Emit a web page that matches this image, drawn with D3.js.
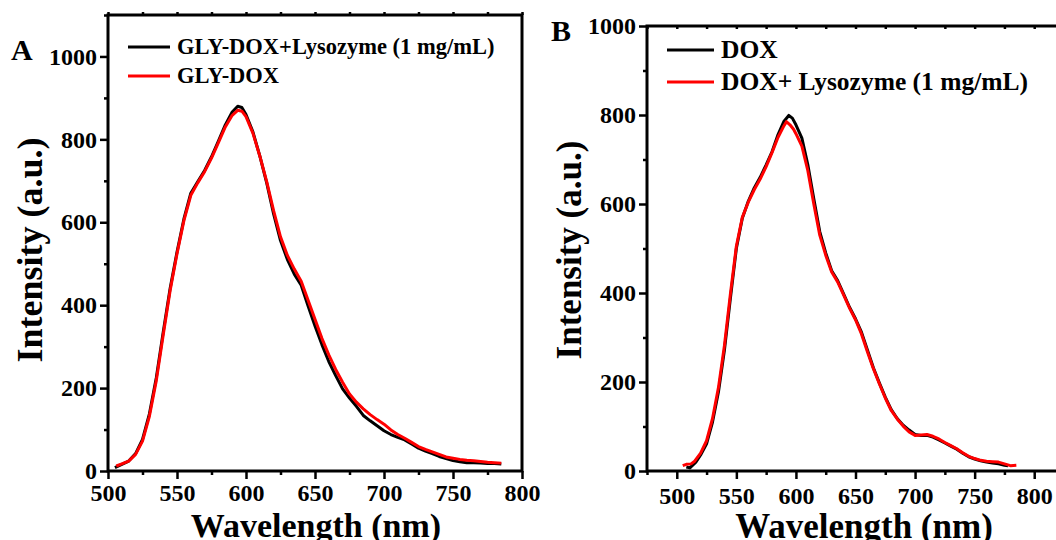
<!DOCTYPE html>
<html>
<head>
<meta charset="utf-8">
<script src="https://cdn.jsdelivr.net/npm/d3@7"></script>
<style>
  html, body { margin: 0; padding: 0; background: #fff; }
  svg { display: block; }
  text { font-family: "Liberation Serif", "Times New Roman", serif; font-weight: bold; fill: #000; }
</style>
</head>
<body>
<svg id="chart" width="1056" height="540"></svg>
<script>
// ---------------- DATA ----------------
// Panel A
const aTitleX = "Wavelength (nm)";
const aTitleY = "Intensity (a.u.)";
const aLegend = ["GLY-DOX+Lysozyme (1 mg/mL)", "GLY-DOX"];
const aXTicks = [500, 550, 600, 650, 700, 750, 800];
const aYTicks = [0, 200, 400, 600, 800, 1000];

const aBlackWl = [505,510,515,520,525,530,535,540,545,550,555,560,565,570,575,580,585,590,594,597,600,605,610,615,620,625,630,635,640,645,650,655,660,665,670,675,680,685,690,695,700,705,710,715,720,725,730,735,740,745,750,755,760,765,770,775,780,785];
const aBlackVal = [8,16,24,42,76,138,225,335,440,528,608,670,698,725,758,796,835,866,880,877,860,818,760,695,620,556,510,475,448,398,350,305,264,230,198,176,156,134,121,109,97,88,81,75,65,55,48,42,35,30,25,22,20,20,19,18,18,17];

const aRedWl = [506,510,515,520,525,530,535,540,545,550,555,560,565,570,575,580,585,590,594,597,600,605,610,615,620,625,630,635,640,645,650,655,660,665,670,675,680,685,690,695,700,705,710,715,720,725,730,735,740,745,750,755,760,765,770,775,780,785];
const aRedVal = [12,17,24,40,72,132,218,328,435,524,604,665,695,722,755,792,830,858,870,868,855,815,760,698,628,565,520,487,458,412,366,320,280,245,214,186,166,150,136,124,113,99,88,79,69,59,52,46,40,34,31,28,26,25,23,21,20,19];

// Panel B
const bTitleX = "Wavelength (nm)";
const bTitleY = "Intensity (a.u.)";
const bLegend = ["DOX", "DOX+ Lysozyme (1 mg/mL)"];
const bXTicks = [500, 550, 600, 650, 700, 750, 800];
const bYTicks = [0, 200, 400, 600, 800, 1000];

const bBlackWl = [508,511,516,520,525,530,535,540,545,550,555,560,565,570,575,580,585,590,594,597,600,605,610,615,620,625,630,635,640,645,650,655,660,665,670,675,680,685,690,695,700,705,710,715,720,725,730,735,740,745,750,755,760,765,770,775,778];
const bBlackVal = [9,7,20,36,61,110,178,272,388,500,568,606,636,660,688,718,756,786,799,793,778,748,688,612,538,490,450,428,398,368,342,312,272,232,198,166,138,118,103,92,82,80,80,76,70,63,56,49,40,32,27,23,20,18,16,13,12];

const bRedWl = [505,508,512,515,520,525,530,535,540,545,550,555,560,565,570,575,580,585,590,592,595,598,600,605,610,615,620,625,630,635,640,645,650,655,660,665,670,675,680,685,690,695,700,705,710,715,720,725,730,735,740,745,750,755,760,765,770,775,780,785];
const bRedVal = [12,15,16,22,40,68,118,188,282,398,505,570,604,632,656,684,716,750,776,785,778,768,758,730,675,600,530,485,447,425,396,366,340,308,268,230,196,164,136,117,101,88,80,81,82,78,72,64,57,50,41,33,28,24,22,21,20,16,12,13];

// ---------------- DRAW ----------------
const svg = d3.select("#chart");
const FONT = '"Liberation Serif", "Times New Roman", serif';

function zip(wl, val) { return wl.map((w, i) => ({ w: w, v: val[i] })); }

function range(a, b, s) { const r = []; for (let v = a; v <= b + 1e-9; v += s) r.push(v); return r; }

function panel(cfg) {
  const g = svg.append("g");
  const x = d3.scaleLinear().domain(cfg.xDomain).range([cfg.left, cfg.right]);
  const y = d3.scaleLinear().domain(cfg.yDomain).range([cfg.bottom, cfg.top]);

  // curves
  const line = d3.line().x(d => x(d.w)).y(d => y(d.v));
  cfg.series.forEach(s => {
    g.append("path").datum(zip(s.wl, s.val))
      .attr("fill", "none").attr("stroke", s.color).attr("stroke-width", 3)
      .attr("stroke-linejoin", "round").attr("d", line);
  });

  // minor ticks
  const xMinor = range(cfg.xDomain[0], cfg.xDomain[1], 25).filter(v => cfg.xTicks.indexOf(v) < 0);
  const yMinor = range(0, cfg.yDomain[1], 100).filter(v => cfg.yTicks.indexOf(v) < 0);

  const styleAxis = (sel, fs) => {
    sel.selectAll("path.domain").remove();
    sel.selectAll("line").attr("stroke", "#000").attr("stroke-width", 2.5);
    sel.selectAll("text").attr("font-family", FONT).attr("font-weight", "bold")
      .attr("font-size", fs).attr("fill", "#000");
  };

  g.append("g").attr("transform", `translate(0,${cfg.bottom})`)
    .call(d3.axisBottom(x).tickValues(xMinor).tickSize(4).tickFormat(""))
    .call(s => styleAxis(s, 24));
  g.append("g").attr("transform", `translate(0,${cfg.bottom})`)
    .call(d3.axisBottom(x).tickValues(cfg.xTicks).tickSize(8).tickPadding(cfg.xPad).tickFormat(d3.format("d")))
    .call(s => styleAxis(s, 24));
  g.append("g").attr("transform", `translate(${cfg.left},0)`)
    .call(d3.axisLeft(y).tickValues(yMinor).tickSize(4).tickFormat(""))
    .call(s => styleAxis(s, 24));
  g.append("g").attr("transform", `translate(${cfg.left},0)`)
    .call(d3.axisLeft(y).tickValues(cfg.yTicks).tickSize(8).tickPadding(cfg.yPad).tickFormat(d3.format("d")))
    .call(s => styleAxis(s, 24));

  // top ticks
  const topAxis = cfg.topOut ? d3.axisTop(x) : d3.axisBottom(x);
  g.append("g").attr("transform", `translate(0,${cfg.top})`)
    .call(topAxis.tickValues(range(cfg.xDomain[0], cfg.xDomain[1], 25)).tickSize(3).tickFormat(""))
    .call(s => styleAxis(s, 24));

  // frame
  g.append("rect").attr("x", cfg.left).attr("y", cfg.top)
    .attr("width", cfg.right - cfg.left).attr("height", cfg.bottom - cfg.top)
    .attr("fill", "none").attr("stroke", "#000").attr("stroke-width", 3);

  // legend
  cfg.series.forEach((s, i) => {
    const ly = cfg.legY[i];
    g.append("line").attr("x1", cfg.legX1).attr("x2", cfg.legX2).attr("y1", ly).attr("y2", ly)
      .attr("stroke", s.color).attr("stroke-width", 3);
    g.append("text").attr("x", cfg.legTextX).attr("y", ly).attr("dy", "0.33em")
      .attr("font-size", cfg.legFont).text(s.name);
  });

  // axis titles
  g.append("text").attr("x", cfg.xTitleX).attr("y", cfg.xTitleY)
    .attr("text-anchor", "middle").attr("font-size", cfg.xTitleFont).text(cfg.xTitle);
  g.append("text").attr("transform", `translate(${cfg.yTitleX},${cfg.yTitleY}) rotate(-90)`)
    .attr("text-anchor", "middle").attr("font-size", cfg.yTitleFont).text(cfg.yTitle);

  // panel letter
  g.append("text").attr("x", cfg.letterX).attr("y", cfg.letterY)
    .attr("font-size", 30).text(cfg.letter);
}

panel({
  left: 108, right: 522, top: 15, bottom: 471,
  xDomain: [500, 800], yDomain: [0, 1100],
  xTicks: aXTicks, yTicks: aYTicks, xPad: 5, yPad: 3, topOut: true,
  series: [
    { wl: aBlackWl, val: aBlackVal, color: "#000000", name: aLegend[0] },
    { wl: aRedWl, val: aRedVal, color: "#ff0000", name: aLegend[1] }
  ],
  legX1: 128, legX2: 170, legTextX: 177, legY: [47, 76], legFont: 22.5,
  xTitle: aTitleX, xTitleX: 316, xTitleY: 537, xTitleFont: 34,
  yTitle: aTitleY, yTitleX: 42, yTitleY: 250, yTitleFont: 36,
  letter: "A", letterX: 11, letterY: 60
});

panel({
  left: 647, right: 1064, top: 26, bottom: 471,
  xDomain: [475, 825], yDomain: [0, 1000],
  xTicks: bXTicks, yTicks: bYTicks, xPad: 8, yPad: 3, topOut: false,
  series: [
    { wl: bBlackWl, val: bBlackVal, color: "#000000", name: bLegend[0] },
    { wl: bRedWl, val: bRedVal, color: "#ff0000", name: bLegend[1] }
  ],
  legX1: 667, legX2: 714, legTextX: 721, legY: [50, 82], legFont: 25.5,
  xTitle: bTitleX, xTitleX: 864, xTitleY: 538, xTitleFont: 35,
  yTitle: bTitleY, yTitleX: 581, yTitleY: 250, yTitleFont: 35,
  letter: "B", letterX: 551, letterY: 41
});
</script>
</body>
</html>
